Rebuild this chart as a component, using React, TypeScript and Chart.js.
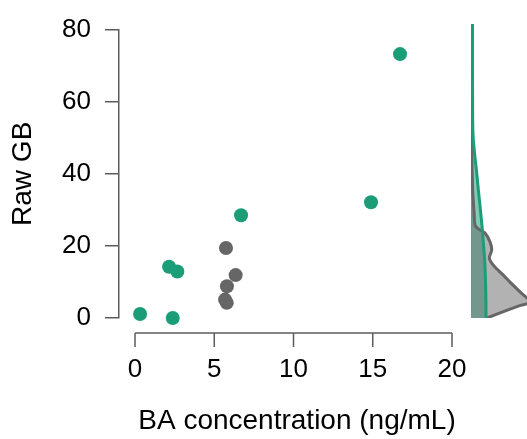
import React, { useEffect, useRef } from 'react';
import { Chart, registerables } from 'chart.js';

Chart.register(...registerables);

// ---- data ----
const GREEN = '#1B9E77';
const GRAY = '#666666';
const AXIS = '#5c5c5c';
const FONT = "'Liberation Sans', Arial, Helvetica, sans-serif";

const greenX = [0.32, 2.38, 2.15, 2.67, 6.69, 14.89, 16.72];
const greenY = [1.1, 0, 14.2, 12.9, 28.5, 32.1, 73.2];
const grayX = [5.74, 6.35, 5.8, 5.68, 5.79];
const grayY = [19.4, 11.9, 8.8, 5.1, 4.2];

const xTicks = [0, 5, 10, 15, 20];
const yTicks = [0, 20, 40, 60, 80];

const xTitle = 'BA concentration (ng/mL)';
const yTitle = 'Raw GB';

// marginal densities of Raw GB (relative width units)
const greenDensY = [80, 70, 60, 50, 45, 40, 35, 30, 25, 20, 15, 10, 5, 0];
const greenDens = [1.5, 1.5, 1.6, 2.0, 3.5, 5.5, 7.3, 9.2, 11, 12.5, 13.8, 14.5, 14.9, 15];
const grayDensY = [80, 60, 45, 35, 32.1, 28, 25.3, 24.3, 23.1, 20.7, 18.5, 16.3, 14.4, 12.0, 9.5, 7.1, 4.35, 3.3, 2.2, 0];
const grayDens = [0.3, 0.4, 0.8, 1.6, 2.3, 3.2, 4, 7, 14, 19, 20.7, 18.3, 22.3, 31, 40, 49, 59, 48, 37, 16];

const toPts = (xs: number[], ys: number[]) => xs.map((x, i) => ({ x, y: ys[i] }));

const rAxisPlugin = {
  id: 'rAxis',
  afterDraw(chart: any) {
    const { ctx, chartArea, scales } = chart;
    const x = scales.x;
    const yPix = chartArea.bottom + 15;
    ctx.save();
    ctx.strokeStyle = AXIS;
    ctx.lineWidth = 1.5;
    ctx.beginPath();
    ctx.moveTo(x.getPixelForValue(xTicks[0]), yPix);
    ctx.lineTo(x.getPixelForValue(xTicks[xTicks.length - 1]), yPix);
    for (const t of xTicks) {
      const px = x.getPixelForValue(t);
      ctx.moveTo(px, yPix);
      ctx.lineTo(px, yPix + 14);
    }
    ctx.stroke();
    ctx.restore();
  },
};

export default function App() {
  const mainRef = useRef<HTMLCanvasElement>(null);
  const densRef = useRef<HTMLCanvasElement>(null);

  useEffect(() => {
    Chart.defaults.font.family = FONT;
    const tickFont = { family: FONT, size: 26 };
    const titleFont = { family: FONT, size: 28 };

    const main = new Chart(mainRef.current as HTMLCanvasElement, {
      type: 'scatter',
      data: {
        datasets: [
          {
            data: toPts(grayX, grayY),
            backgroundColor: GRAY,
            borderWidth: 0,
            pointRadius: 7,
            clip: false,
          },
          {
            data: toPts(greenX, greenY),
            backgroundColor: GREEN,
            borderWidth: 0,
            pointRadius: 7,
            clip: false,
          },
        ],
      },
      options: {
        animation: false,
        responsive: false,
        layout: { padding: { left: 0, top: 24, right: 52, bottom: 0 } },
        plugins: { legend: { display: false }, tooltip: { enabled: false } },
        scales: {
          x: {
            type: 'linear',
            min: -1.01,
            max: 21.45,
            afterBuildTicks: (s: any) => {
              s.ticks = xTicks.map((v) => ({ value: v }));
            },
            afterFit: (s: any) => {
              s.height = 121;
            },
            grid: { display: false, drawTicks: false },
            border: { display: false },
            ticks: { padding: 36, font: tickFont, color: '#000', maxRotation: 0 },
            title: { display: true, text: xTitle, font: titleFont, color: '#000', padding: { top: 0, bottom: 1 } },
          },
          y: {
            type: 'linear',
            min: 0,
            max: 80,
            afterBuildTicks: (s: any) => {
              s.ticks = yTicks.map((v) => ({ value: v }));
            },
            afterFit: (s: any) => {
              s.width = 119;
            },
            grid: { display: true, drawOnChartArea: false, drawTicks: true, tickLength: 14, color: AXIS, lineWidth: 1.5 },
            border: { display: true, color: AXIS, width: 1.5 },
            ticks: { padding: 14, font: tickFont, color: '#000' },
            title: { display: true, text: yTitle, font: titleFont, color: '#000', padding: { top: 6, bottom: 0 } },
          },
        },
      } as any,
      plugins: [rAxisPlugin],
    });

    const dens = new Chart(densRef.current as HTMLCanvasElement, {
      type: 'line',
      data: {
        datasets: [
          {
            data: toPts(greenDens, greenDensY),
            borderColor: GREEN,
            borderWidth: 3,
            fill: false,
            pointRadius: 0,
            tension: 0.4,
            order: 0,
          },
          {
            data: toPts(grayDens, grayDensY),
            borderColor: GRAY,
            borderWidth: 3,
            backgroundColor: 'rgba(102,102,102,0.5)',
            fill: 'origin',
            pointRadius: 0,
            tension: 0.3,
            order: 1,
          },
          {
            data: toPts(greenDens, greenDensY),
            borderColor: 'transparent',
            borderWidth: 0.01,
            backgroundColor: 'rgba(27,158,119,0.55)',
            fill: 'origin',
            pointRadius: 0,
            tension: 0.4,
            order: 2,
          },
        ],
      },
      options: {
        indexAxis: 'y',
        animation: false,
        responsive: false,
        layout: { padding: { left: 471, top: 24, right: 0, bottom: 121 } },
        plugins: { legend: { display: false }, tooltip: { enabled: false } },
        scales: {
          x: { type: 'linear', min: 0, max: 56, display: false },
          y: { type: 'linear', min: 0, max: 80, display: false },
        },
      } as any,
    });

    return () => {
      main.destroy();
      dens.destroy();
    };
  }, []);

  return (
    <div style={{ position: 'fixed', left: 0, top: 0, width: 527, height: 439, background: '#fff' }}>
      <canvas ref={mainRef} width={527} height={439} style={{ position: 'absolute', left: 0, top: 0 }} />
      <canvas ref={densRef} width={527} height={439} style={{ position: 'absolute', left: 0, top: 0 }} />
    </div>
  );
}
